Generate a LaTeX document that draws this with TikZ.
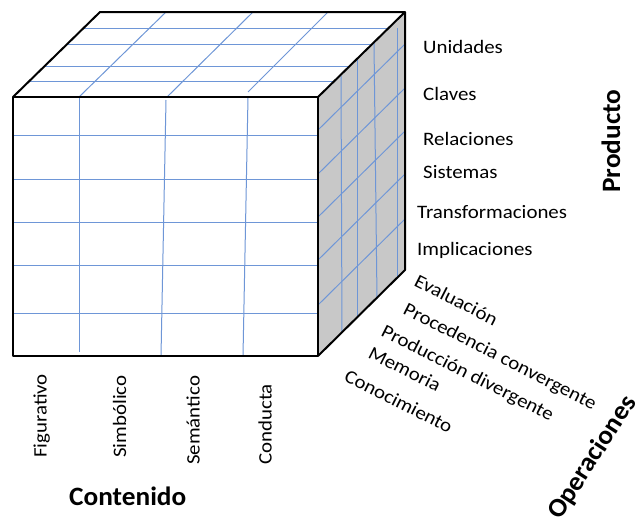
\documentclass[tikz,border=0pt]{standalone}
\usepackage{fontspec}
\setmainfont{Carlito}
\newfontfamily\labfont[FakeStretch=1.1]{Carlito}
\newfontfamily\titfont[FakeStretch=1.03]{Carlito}
\definecolor{gridblue}{RGB}{110,150,215}
\definecolor{sidegray}{RGB}{200,200,200}
\tikzset{
  lab/.style={font=\labfont\fontsize{19}{21}\selectfont, inner sep=0pt, anchor=base west},
  tit/.style={font=\titfont\bfseries\fontsize{26.5}{28}\selectfont, inner sep=0pt, anchor=base west},
  edgeline/.style={line width=2pt, line join=round},
  gridline/.style={draw=gridblue, line width=1pt},
}
\begin{document}
\begin{tikzpicture}[x=1pt,y=-1pt]
\useasboundingbox (0,0) rectangle (635,525);
% cube corners
\coordinate (FTL) at (13,97);
\coordinate (FTR) at (318,97);
\coordinate (FBR) at (318,356);
\coordinate (FBL) at (13,356);
\coordinate (BTL) at (100,12);
\coordinate (BTR) at (405,12);
\coordinate (BBR) at (405,270);
% faces
\fill[white] (FTL) rectangle (FBR);
\fill[white] (FTL) -- (BTL) -- (BTR) -- (FTR) -- cycle;
\fill[sidegray] (FTR) -- (BTR) -- (BBR) -- (FBR) -- cycle;
% front grid
\foreach \y in {135.5,179.5,222.5,265.5,313.5} \draw[gridline] (13,\y) -- (318,\y);
\draw[gridline] (79.5,97) -- (79.5,352);
\draw[gridline] (166,100) -- (161,356);
\draw[gridline] (248,97) -- (243,356);
% top grid
\draw[gridline] (29.4,81.5) -- (334.4,81.5);
\draw[gridline] (44.7,66.5) -- (349.7,66.5);
\draw[gridline] (67.2,44.5) -- (372.2,44.5);
\draw[gridline] (83.6,28.5) -- (388.6,28.5);
\draw[gridline] (79,97) -- (166,12);
\draw[gridline] (167,97) -- (253,12);
\draw[gridline] (248,92) -- (328,12);
% right grid
\draw[gridline] (341,76) -- (342,332);
\draw[gridline] (357,60) -- (357,317);
\draw[gridline] (374,43) -- (377,299);
\draw[gridline] (397,28) -- (397,278);
\foreach \y in {130,174,217,260,305} \draw[gridline] (318,\y) -- (405,\y-86);
% outlines
\draw[edgeline] (FTL) rectangle (FBR);
\draw[edgeline] (FTL) -- (BTL) -- (BTR) -- (FTR);
\draw[edgeline] (BTR) -- (BBR) -- (FBR);
% Producto labels
\node[lab] (uni) at (423,53) {Unidades};
\node[lab] (cla) at (423,100) {Claves};
\node[lab] (rel) at (423,145) {Relaciones};
\node[lab] (sis) at (423,178) {Sistemas};
\node[lab] (tra) at (417,218) {Transformaciones};
\node[lab] (imp) at (417,255) {Implicaciones};
\node[tit, rotate=90] (prod) at (620,193) {Producto};
% Contenido labels
\node[lab, rotate=90] (fig) at (46.5,458) {Figurativo};
\node[lab, rotate=90] (sim) at (126,458) {Simbólico};
\node[lab, rotate=90] (sem) at (199.5,465) {Semántico};
\node[lab, rotate=90] (con) at (271.5,465) {Conducta};
\node[tit] (cont) at (69,505) {Contenido};
% Operaciones labels
\node[lab, rotate=-27] (eva) at (413,285) {Evaluación};
\node[lab, rotate=-27] (pcv) at (402,313) {Procedencia convergente};
\node[lab, rotate=-27] (pdv) at (380,335) {Producción divergente};
\node[lab, rotate=-27] (mem) at (367,357) {Memoria};
\node[lab, rotate=-27] (cono) at (343,380) {Conocimiento};
\node[tit, rotate=57] (oper) at (560,521) {Operaciones};
\end{tikzpicture}
\end{document}
